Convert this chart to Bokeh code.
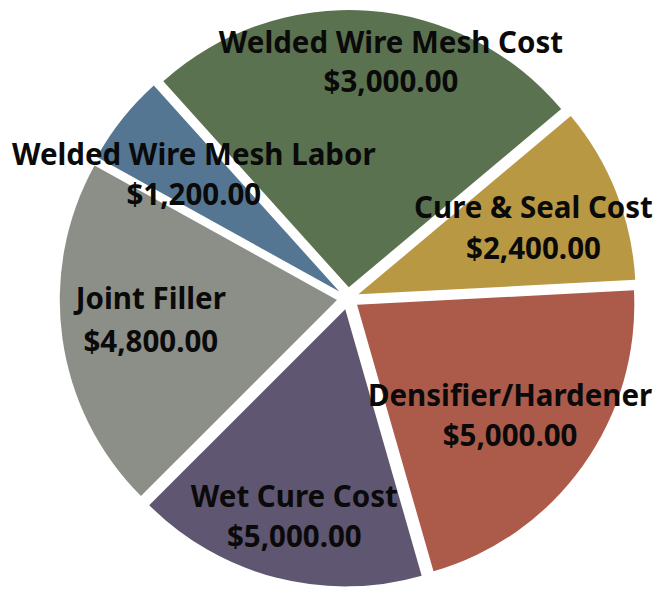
import math
from bokeh.plotting import figure
from bokeh.models import ColumnDataSource, Range1d
from bokeh.core.properties import value
from bokeh.embed import file_html
from bokeh.resources import INLINE

# Data (clockwise from the top-left edge of the first slice)
categories = ["Welded Wire Mesh Cost", "Cure & Seal Cost", "Densifier/Hardener",
              "Wet Cure Cost", "Joint Filler", "Welded Wire Mesh Labor"]
amount_labels = ["$3,000.00", "$2,400.00", "$5,000.00", "$5,000.00", "$4,800.00", "$1,200.00"]
# slice sizes as drawn in the picture (degrees of the circle)
slice_degrees = [92, 37, 77, 61, 74, 19]
colors = ["#5B7250", "#B99844", "#AC5A4A", "#5F5671", "#8B8F87", "#547692"]

# layout (reference pixel space)
START_DEG = 132.0
CX, CY = 356.0, -306.0
RADIUS = 284.0
EXPLODE = 11.4

# label anchor positions (reference px) : centre of the two-line block
label_x = [400, 546, 522, 301, 154, 198]
label_y1 = [42, 212, 405, 508, 305, 157]
label_y2 = [82, 254, 446, 550, 349, 198]

starts, ends, xs, ys = [], [], [], []
cur = START_DEG
for deg in slice_degrees:
    end = cur
    start = cur - deg
    mid = math.radians((start + end) / 2)
    starts.append(math.radians(start))
    ends.append(math.radians(end))
    xs.append(CX + EXPLODE * math.cos(mid))
    ys.append(CY + EXPLODE * math.sin(mid))
    cur = start

src = ColumnDataSource(dict(x=xs, y=ys, s=starts, e=ends, c=colors, cat=categories))

p = figure(width=656, height=588, output_backend="svg", toolbar_location=None,
           x_range=Range1d(0, 672), y_range=Range1d(-604, 0),
           min_border=0, outline_line_color=None, background_fill_color="white")
p.axis.visible = False
p.grid.visible = False

p.wedge(x="x", y="y", radius=RADIUS, start_angle="s", end_angle="e",
        fill_color="c", line_color=None, source=src)

tsrc1 = ColumnDataSource(dict(x=label_x, y=[-v for v in label_y1], t=categories))
tsrc2 = ColumnDataSource(dict(x=label_x, y=[-v for v in label_y2], t=amount_labels))
for ts in (tsrc1, tsrc2):
    p.text(x="x", y="y", text="t", source=ts, text_align="center", text_baseline="middle",
           text_font=value("Noto Sans"), text_font_style="bold", text_font_size="29.5px",
           text_color="#0a0a0a")

open("out.html", "w").write(file_html(p, INLINE))
